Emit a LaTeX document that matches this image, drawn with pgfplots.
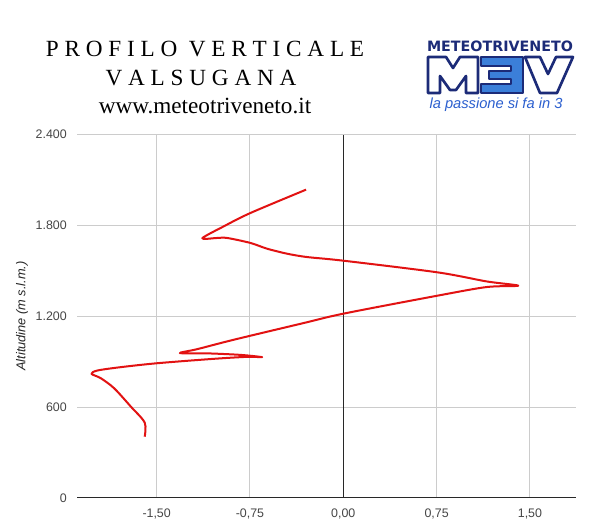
\documentclass[border=0pt]{standalone}
\usepackage{fontspec}
\setmainfont{Liberation Sans}
\newfontfamily\titlefont{Liberation Serif}
\newfontfamily\logofont{DejaVu Sans}
\usepackage{pgfplots}
\pgfplotsset{compat=1.18}

\definecolor{profred}{RGB}{226,18,18}
\definecolor{gridgray}{RGB}{204,204,204}
\definecolor{labelgray}{RGB}{70,70,70}
\definecolor{axisdark}{RGB}{40,40,40}
\definecolor{navy}{RGB}{28,43,120}
\definecolor{logoblue}{RGB}{59,127,217}
\definecolor{tagblue}{RGB}{43,95,207}

\newcommand\zerolabel{0,00}

\begin{document}
\begin{tikzpicture}
\useasboundingbox (0,0) rectangle (457.5pt,390pt);
\fill[white] (0,0) rectangle (457.5pt,390pt);

\begin{axis}[
    at={(57.75pt,16.5pt)}, anchor=south west,
    scale only axis,
    width=374.25pt, height=272.6pt,
    xmin=-2.14, xmax=1.87,
    ymin=0, ymax=2400,
    xtick={-1.5,-0.75,0.75,1.5},
    xticklabels={{-1,50},{-0,75},{0,75},{1,50}},
    extra x ticks={0},
    extra x tick labels={\zerolabel},
    extra x tick style={major grid style={draw=axisdark, line width=0.75pt}},
    ytick={600,1200,1800,2400},
    yticklabels={600,{1.200},{1.800},{2.400}},
    extra y ticks={0},
    extra y tick labels={0},
    extra y tick style={major grid style={draw=axisdark, line width=0.75pt}},
    grid=major,
    major grid style={draw=gridgray, line width=0.75pt},
    axis line style={draw=none},
    major tick length=0pt,
    tick label style={font=\fontsize{9.3}{11}\selectfont, text=labelgray},
    xticklabel style={anchor=base, yshift=-15pt},
    yticklabel style={anchor=east, inner sep=0pt, xshift=-7.5pt},
]

% profilo verticale
\addplot[profred, line width=1.5pt, smooth, tension=0.5, line join=round] coordinates {
    (-1.596, 405)
    (-1.596, 498)
    (-1.708, 604)
    (-1.842, 725)
    (-1.949, 791)
    (-2.023, 820)
    (-1.975, 842)
    (-1.788, 864)
    (-1.494, 890)
    (-1.040, 919)
    (-0.772, 932)
    (-0.652, 930)
    (-0.826, 945)
    (-1.093, 955)
    (-1.313, 957)
    (-1.173, 983)
    (-0.880, 1045)
    (-0.345, 1150)
    (0.000, 1217)
    (0.757, 1336)
    (1.152, 1393)
    (1.406, 1402)
    (1.152, 1430)
    (0.757, 1490)
    (0.000, 1567)
    (-0.291, 1591)
    (-0.451, 1613)
    (-0.612, 1646)
    (-0.746, 1684)
    (-0.933, 1717)
    (-1.013, 1717)
    (-1.133, 1715)
    (-0.960, 1794)
    (-0.746, 1882)
    (-0.299, 2036)
};
\end{axis}

% testi e logo, coordinate in pixel dall'alto a sinistra
\begin{scope}[shift={(0,390pt)}, x=0.75pt, y=-0.75pt]
  \node[rotate=90, anchor=center, font=\itshape\fontsize{9.6}{11}\selectfont, text=black!85]
    at (22,316) {Altitudine (m s.l.m.)};

  \begin{scope}[font=\titlefont\fontsize{17.4}{21}\selectfont]
    \node[anchor=base] at (205,57) {P R O F I L O \ V E R T I C A L E};
    \node[anchor=base] at (201,86) {V A L S U G A N A};
    \node[anchor=base] at (205,114) {www.meteotriveneto.it};
  \end{scope}

  \node[anchor=base, font=\logofont\bfseries\fontsize{10.7}{12}\selectfont, text=navy, inner sep=0pt]
    at (500,52) {METEOTRIVENETO};
  \begin{scope}[line width=2pt, draw=navy, line join=round]
    \filldraw[fill=white] (428,93) -- (428,57) -- (446,57) -- (453,68) -- (460,57) -- (478,57)
      -- (478,93) -- (466,93) -- (466,76) -- (456,90) -- (450,90) -- (440,76) -- (440,93) -- cycle;
    \filldraw[fill=logoblue] (481,57) -- (523,57) -- (523,93) -- (481,93) -- (481,84) -- (511,84)
      -- (511,79) -- (489,79) -- (489,71) -- (511,71) -- (511,66) -- (481,66) -- cycle;
    \filldraw[fill=white] (525,57) -- (540,57) -- (548,74) -- (556,57) -- (573,57) -- (557,93)
      -- (540,93) -- cycle;
  \end{scope}
  \node[anchor=base, font=\itshape\fontsize{11}{13}\selectfont, text=tagblue, inner sep=0pt]
    at (496,109) {la passione si fa in 3};
\end{scope}
\end{tikzpicture}
\end{document}
